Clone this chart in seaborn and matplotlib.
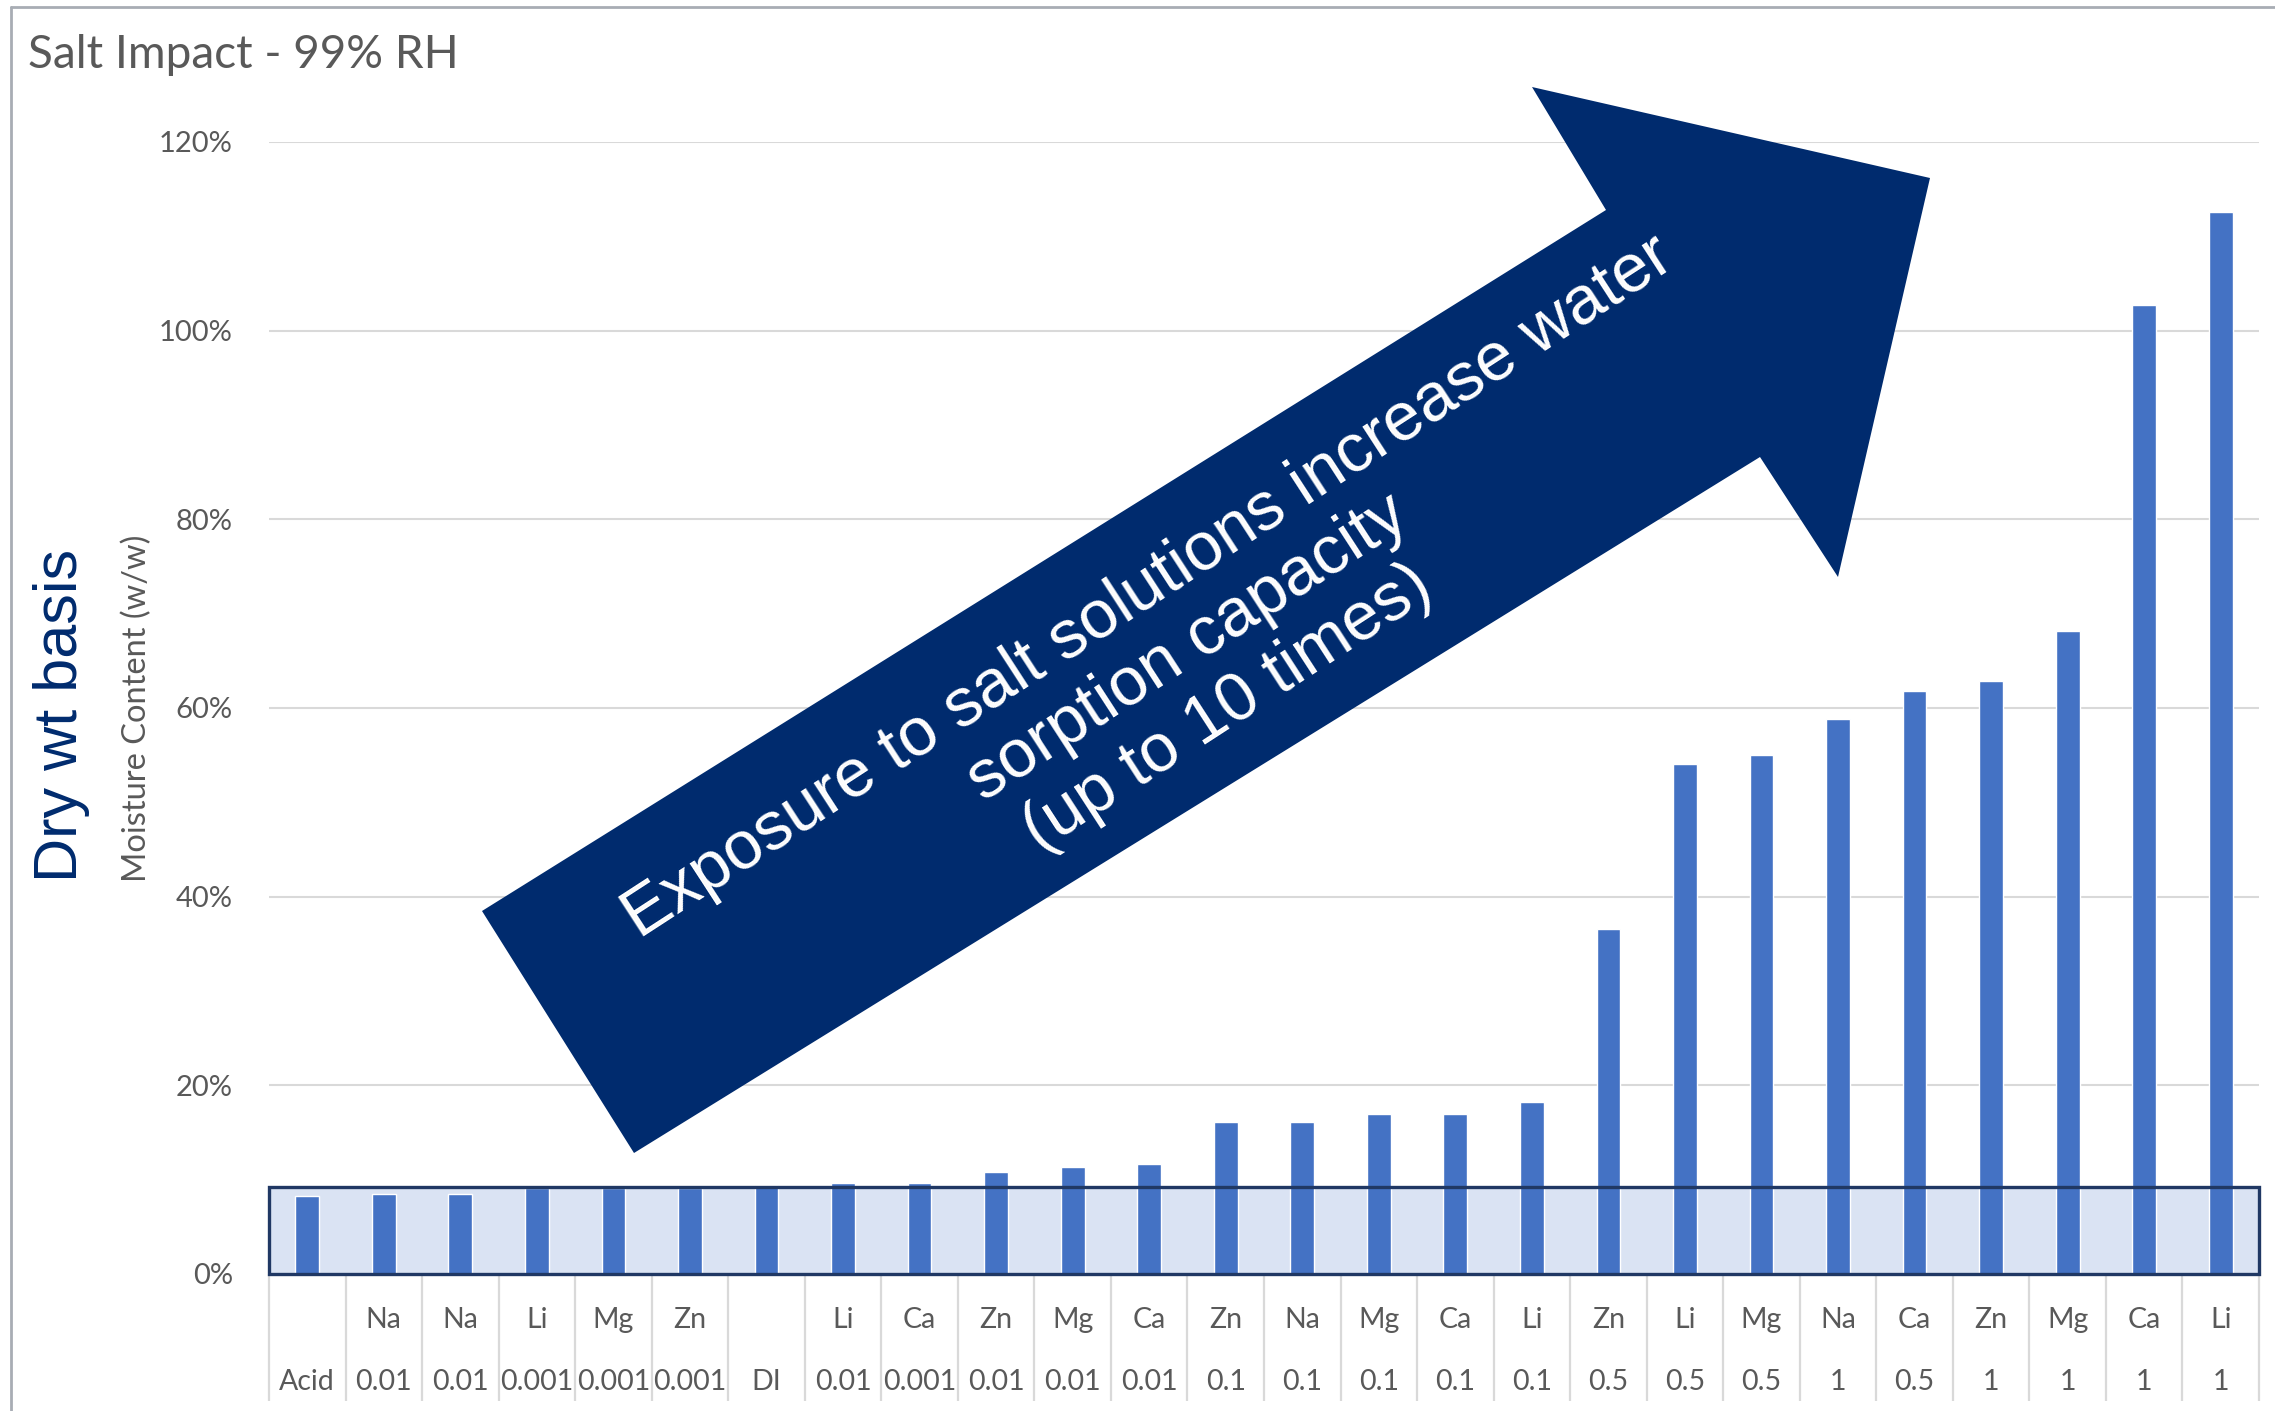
import numpy as np
import pandas as pd
import matplotlib
matplotlib.use("Agg")
import matplotlib.pyplot as plt
import matplotlib.transforms as mtransforms
from matplotlib.patches import Polygon, Rectangle
from matplotlib.lines import Line2D
from matplotlib.ticker import PercentFormatter
import seaborn as sns

# ---- data -------------------------------------------------------------
elements = ["", "Na", "Na", "Li", "Mg", "Zn", "", "Li", "Ca", "Zn", "Mg", "Ca",
            "Zn", "Na", "Mg", "Ca", "Li", "Zn", "Li", "Mg", "Na", "Ca", "Zn",
            "Mg", "Ca", "Li"]
concentrations = ["Acid", "0.01", "0.01", "0.001", "0.001", "0.001", "DI",
                  "0.01", "0.001", "0.01", "0.01", "0.01", "0.1", "0.1", "0.1",
                  "0.1", "0.1", "0.5", "0.5", "0.5", "1", "0.5", "1", "1", "1",
                  "1"]
moisture_pct = [8.3, 8.5, 8.5, 9.1, 9.1, 9.1, 9.4, 9.6, 9.6, 10.8, 11.3, 11.7,
                16.1, 16.1, 17.0, 17.0, 18.2, 36.6, 54.1, 55.0, 58.8, 61.8,
                62.9, 68.2, 102.7, 112.6]
y_ticks = [0, 20, 40, 60, 80, 100, 120]
baseline_band_top = 9.2   # shaded band marking the untreated/low-salt level

arrow_lines = ["Exposure to salt solutions increase water",
               "sorption capacity",
               "(up to 10 times)"]

# ---- figure -----------------------------------------------------------
W, H = 2275, 1411
sns.set_style("white")
plt.rcParams["font.family"] = ["Lato", "DejaVu Sans"]

fig = plt.figure(figsize=(W / 100, H / 100), dpi=100)
fig.patch.set_facecolor("white")

def px(x, y):
    return x / W, 1 - y / H

ax_left, ax_right, ax_top, ax_bottom = 269, 2259, 142, 1274
ax = fig.add_axes([ax_left / W, 1 - ax_bottom / H,
                   (ax_right - ax_left) / W, (ax_bottom - ax_top) / H])

df = pd.DataFrame({
    "slot": [f"s{i}" for i in range(len(moisture_pct))],
    "moisture": moisture_pct,
})

grey_text = "#595959"
grid_col = "#D9D9D9"

sns.barplot(data=df, x="slot", y="moisture", color="#4472C4", saturation=1,
            width=0.31, ax=ax, zorder=2)

ax.set_xlim(-0.5, len(moisture_pct) - 0.5)
ax.set_ylim(0, 120)
ax.set_yticks(y_ticks)
ax.yaxis.set_major_formatter(PercentFormatter(xmax=100, decimals=0))
ax.set_axisbelow(True)
ax.yaxis.grid(True, color=grid_col, lw=1.5)
ax.xaxis.grid(False)
for s in ax.spines.values():
    s.set_visible(False)
ax.tick_params(axis="y", length=0, pad=26, labelsize=21, labelcolor=grey_text)
ax.tick_params(axis="x", length=0)
ax.set_xticks([])
ax.set_xlabel("")
ax.set_ylabel("")

# shaded band with outline
ax.add_patch(Rectangle((-0.5, 0), len(moisture_pct), baseline_band_top,
                       facecolor="#DAE3F3", edgecolor="none", zorder=1))
ax.add_patch(Rectangle((-0.5, 0), len(moisture_pct), baseline_band_top,
                       facecolor="none", edgecolor="#203864", lw=2.4,
                       zorder=3, clip_on=False))

# two-row category labels with separators
blend = mtransforms.blended_transform_factory(ax.transData, ax.transAxes)
ax.vlines(np.arange(-0.5, len(moisture_pct), 1.0), -0.112, 0,
          transform=blend, color=grid_col, lw=1.6, clip_on=False)
for i, (el, conc) in enumerate(zip(elements, concentrations)):
    ax.text(i, -0.041, el, transform=blend, ha="center", va="center",
            fontsize=20.5, color=grey_text)
    ax.text(i, -0.095, conc, transform=blend, ha="center", va="center",
            fontsize=20.5, color=grey_text)

# titles
fig.text(*px(28, 55), "Salt Impact - 99% RH", fontsize=33, color=grey_text,
         ha="left", va="center")
fig.text(*px(137, 882), "Moisture Content (w/w)", fontsize=23.5,
         color=grey_text, rotation=90, ha="center", va="bottom")
fig.text(*px(62, 882), "Dry wt basis", fontsize=44, color="#002B6E",
         rotation=90, ha="center", va="bottom",
         family=["Liberation Sans", "DejaVu Sans"])

# chart frame
fig.add_artist(Line2D([11 / W, 11 / W], [0, 1 - 7 / H],
                      transform=fig.transFigure, color="#A8ADB4", lw=2))
fig.add_artist(Line2D([11 / W, 1], [1 - 7 / H, 1 - 7 / H],
                      transform=fig.transFigure, color="#A8ADB4", lw=2))

# big annotation arrow
arrow_px = [(634, 1153), (482, 911), (1606, 210), (1532, 87),
            (1930, 178), (1838, 577), (1760, 457)]
fig.add_artist(Polygon([px(x, y) for x, y in arrow_px], closed=True,
                       transform=fig.transFigure, facecolor="#002B6E",
                       edgecolor="none", zorder=5))
fig.text(*px(1188, 648), "\n".join(arrow_lines), fontsize=49, color="white",
         rotation=33, rotation_mode="anchor", ha="center", va="center",
         multialignment="center", linespacing=1.17, zorder=6,
         family=["Liberation Sans", "DejaVu Sans"])

fig.savefig("out.png", dpi=100, facecolor="white")
